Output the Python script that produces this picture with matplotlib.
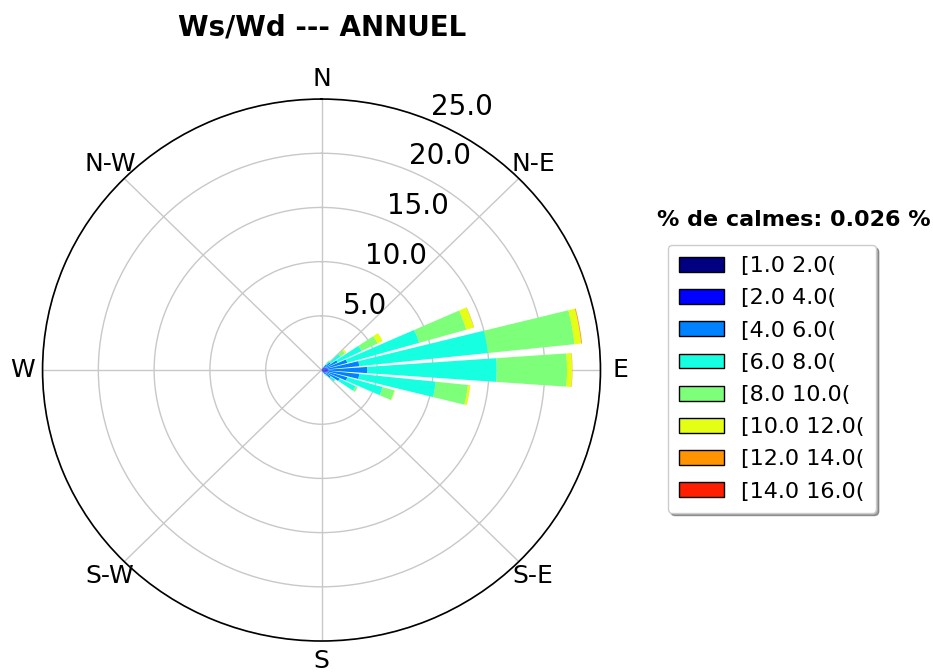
import numpy as np
import matplotlib
matplotlib.use("Agg")
import matplotlib.pyplot as plt

# wind directions (deg, compass) that have data, 10 deg sectors
directions = [30, 40, 50, 60, 70, 80, 90, 100, 110, 120, 130, 140, 150]

# frequency (%) per speed class for each direction above
speed_labels = ["[1.0 2.0(", "[2.0 4.0(", "[4.0 6.0(", "[6.0 8.0(",
                "[8.0 10.0(", "[10.0 12.0(", "[12.0 14.0(", "[14.0 16.0("]
f_1_2 = [0.02, 0.05, 0.05, 0.05, 0.05, 0.05, 0.05, 0.05, 0.05, 0.05, 0.05, 0.05, 0.02]
f_2_4 = [0.10, 0.15, 0.25, 0.35, 0.45, 0.55, 0.60, 0.55, 0.45, 0.35, 0.25, 0.15, 0.08]
f_4_6 = [0.13, 0.40, 0.70, 1.20, 1.90, 2.80, 3.45, 2.80, 1.90, 1.40, 0.70, 0.30, 0.10]
f_6_8 = [0.10, 0.40, 1.10, 2.40, 6.70, 11.6, 11.6, 6.90, 3.30, 1.60, 0.50, 0.20, 0.05]
f_8_10 = [0.05, 0.10, 0.50, 1.60, 4.40, 7.80, 6.30, 2.90, 1.10, 0.20, 0.05, 0.0, 0.0]
f_10_12 = [0.0, 0.02, 0.15, 0.50, 0.70, 0.60, 0.45, 0.20, 0.05, 0.0, 0.0, 0.0, 0.0]
f_12_14 = [0.0, 0.0, 0.0, 0.0, 0.03, 0.06, 0.03, 0.01, 0.0, 0.0, 0.0, 0.0, 0.0]
f_14_16 = [0.0, 0.0, 0.0, 0.0, 0.0, 0.01, 0.0, 0.0, 0.0, 0.0, 0.0, 0.0, 0.0]
freqs = [f_1_2, f_2_4, f_4_6, f_6_8, f_8_10, f_10_12, f_12_14, f_14_16]

calm_pct = 0.026
r_ticks = [5, 10, 15, 20, 25]
compass = ["N", "N-E", "E", "S-E", "S", "S-W", "W", "N-W"]

colors = plt.cm.jet(np.linspace(0, 1, 9))[:8]

fig = plt.figure(figsize=(9.33, 6.72), dpi=100)
ax = fig.add_axes([0.0456, 0.0461, 0.598, 0.8065], projection="polar")
ax.set_aspect("auto")
ax.set_theta_zero_location("N")
ax.set_theta_direction(-1)

theta = np.radians(directions)
width = np.radians(10) * 0.8
offset = np.zeros(len(directions))
for vals, col, lab in zip(freqs, colors, speed_labels):
    vals = np.array(vals)
    ax.bar(theta, vals, width=width, bottom=offset, color=col,
           linewidth=0, label=lab, zorder=2)
    offset += vals

ax.set_ylim(0, 25)
ax.set_yticks(r_ticks)
ax.set_yticklabels(["%.1f" % v for v in r_ticks], fontsize=20)
ax.set_rlabel_position(23)
ax.set_xticks(np.radians(np.arange(0, 360, 45)))
ax.set_xticklabels(compass, fontsize=18)
ax.tick_params(axis="x", pad=4)
ax.grid(color="#c8c8c8", linewidth=1)
ax.spines["polar"].set_linewidth(1.2)

fig.text(322 / 933, 1 - 27 / 672, "Ws/Wd --- ANNUEL", ha="center", va="center",
         fontsize=20, fontweight="bold")

fig.text(794 / 933, 1 - 220 / 672, "%% de calmes: %.3f %%" % calm_pct,
         ha="center", va="center", fontsize=16, fontweight="bold")

leg = fig.legend(loc="upper left", bbox_to_anchor=(668 / 933, 1 - 245 / 672),
                 fontsize=16, fancybox=True, shadow=True, borderaxespad=0,
                 handlelength=2.0, handleheight=0.65, labelspacing=0.55,
                 borderpad=0.5)
for h in leg.legend_handles:
    h.set_edgecolor("black")
    h.set_linewidth(1)

fig.savefig("out.png", dpi=100)
